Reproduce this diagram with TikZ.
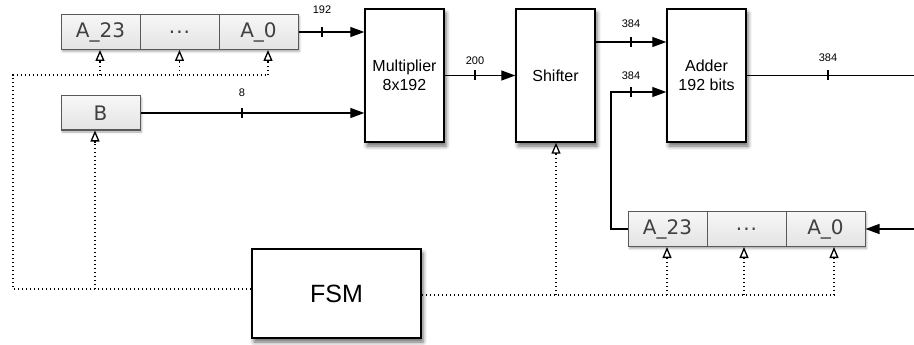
\documentclass[tikz,border=0pt]{standalone}
\usepackage{fontspec}
\setmainfont{Liberation Sans}
\newfontfamily\regfont{DejaVu Sans}
\usetikzlibrary{arrows.meta,shadows.blur}
\begin{document}
\begin{tikzpicture}[x=1pt,y=-1pt,
  blockbox/.style={draw=black, line width=1.4pt, fill=white, rectangle,
    minimum width=79pt, minimum height=133pt, inner sep=0pt,
    blur shadow={shadow xshift=2pt, shadow yshift=-4pt, shadow blur radius=4pt, shadow opacity=60},
    font=\fontsize{16}{19}\selectfont, align=center},
  regbg/.style={rectangle, fill=white, inner sep=0pt, minimum height=35pt,
    blur shadow={shadow xshift=1.5pt, shadow yshift=-2pt, shadow blur radius=2pt, shadow opacity=35}},
  regcell/.style={rectangle, draw=black!65, line width=1pt, top color=black!3, bottom color=black!11,
    minimum width=79pt, minimum height=35pt, inner sep=0pt, text=black!75,
    font=\regfont\fontsize{20}{22}\selectfont},
  sig/.style={line width=1.3pt, -{Triangle[length=14pt,width=10pt]}},
  wire/.style={line width=1.3pt},
  tickmark/.style={line width=1.2pt},
  lbl/.style={font=\fontsize{11}{12}\selectfont, inner sep=0pt},
  ctl/.style={line width=1.4pt, dash pattern=on 1.3pt off 2.7pt},
  tiponly/.style={solid, line width=1.3pt, -{Triangle[open, fill=white, length=11pt, width=9pt, line width=1.3pt]}}
]
\useasboundingbox (0,0) rectangle (914,345);

% registers (top)
\node[regbg, minimum width=237pt] (r1bg) at (179.5,32) {};
\node[regcell] (a23) at (100.5,32) {A\_23};
\node[regcell] (adots) at (179.5,32) {.\kern1pt.\kern1pt.};
\node[regcell] (a0) at (258.5,32) {A\_0};
% B
\node[regbg, minimum width=79pt, minimum height=34pt] (bbg) at (100.5,113) {};
\node[regcell, minimum height=34pt] (b) at (100.5,113) {B};
% registers (bottom)
\node[regbg, minimum width=237pt] (r2bg) at (746.5,229) {};
\node[regcell] (ra23) at (667.5,229) {A\_23};
\node[regcell] (radots) at (746.5,229) {.\kern1pt.\kern1pt.};
\node[regcell] (ra0) at (825.5,229) {A\_0};

% blocks
\node[blockbox] (mult) at (404.5,75.5) {Multiplier\\8x192};
\node[blockbox] (shift) at (555.5,75.5) {Shifter};
\node[blockbox] (add) at (706.5,75.5) {Adder\\192 bits};
\node[blockbox, minimum width=169pt, minimum height=89pt, font=\fontsize{25}{28}\selectfont] (fsm) at (336.5,293.5) {FSM};

% data paths
\draw[sig] (a0.east) -- (a0.east -| mult.west);
\draw[tickmark] (322,27) -- (322,37);
\node[lbl] (l192) at (322,10) {192};

\draw[sig] (b.east) -- (b.east -| mult.west);
\draw[tickmark] (242,108) -- (242,118);
\node[lbl] (l8) at (242,93) {8};

\draw[sig] (mult.east) -- (shift.west);
\draw[tickmark] (475,70.5) -- (475,80.5);
\node[lbl] (l200) at (475,61) {200};

\draw[sig] ([yshift=33.5pt]shift.east) -- ([yshift=33.5pt]add.west);
\draw[tickmark] (631,37) -- (631,47);
\node[lbl] (l384a) at (631,23.5) {384};

\coordinate (bend1) at (611,229);
\coordinate (bend2) at (611,92);
\draw[sig] (ra23.west) -- (bend1) -- (bend2) -- ([yshift=-16.5pt]add.west);
\draw[tickmark] (631,87) -- (631,97);
\node[lbl] (l384b) at (631,75.5) {384};

\coordinate (out) at (914,75.5);
\draw[wire] (add.east) -- (out);
\draw[tickmark] (828,70.5) -- (828,80.5);
\node[lbl] (l384c) at (828,58) {384};

\coordinate (in2) at (914,229);
\draw[sig] (in2) -- (ra0.east);

% control paths
\coordinate (cl1) at (13,289);
\coordinate (cl2) at (13,75);
\coordinate (cl3) at (268,75);
\coordinate (cr1) at (556,295);
\coordinate (cr2) at (834,295);
\draw[ctl] ([yshift=4.5pt]fsm.west) -- (cl1) -- (cl2) -- (cl3);
\draw[ctl] ([yshift=-1.5pt]fsm.east) -- (cr1) -- (cr2);
\foreach \src/\dst in {{100,75}/{a23.south -| 100,0}, {179.5,75}/{adots.south},
    {268,75}/{a0.south -| 268,0}, {95,289}/{b.south -| 95,0},
    {556,295}/{shift.south -| 556,0}, {667,295}/{ra23.south -| 667,0},
    {744,295}/{radots.south -| 744,0}, {834,295}/{ra0.south -| 834,0}} {
  \draw[ctl] (\src) -- ([yshift=-10pt]\dst);
  \draw[tiponly] ([yshift=-12pt]\dst) -- (\dst);
}
\end{tikzpicture}
\end{document}
